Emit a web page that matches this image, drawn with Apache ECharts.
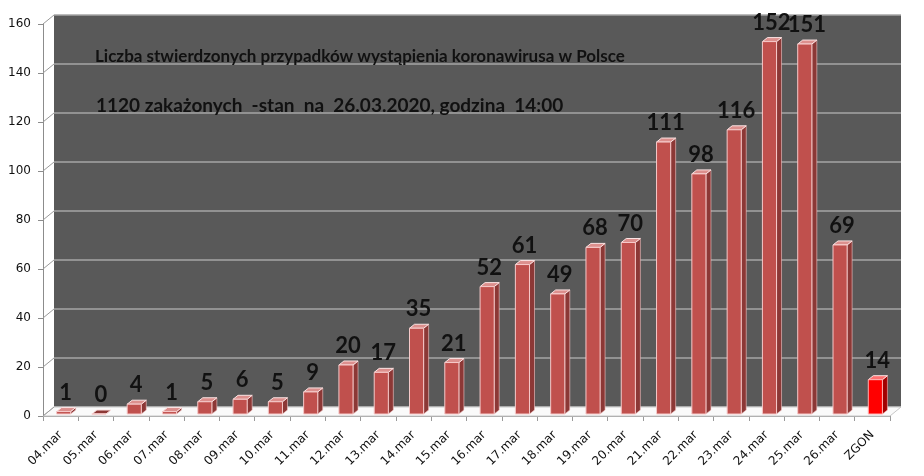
<!DOCTYPE html>
<html>
<head>
<meta charset="utf-8">
<script src="https://cdn.jsdelivr.net/npm/echarts@6/dist/echarts.min.js"></script>
<style>
  html, body { margin: 0; padding: 0; background: #fff; }
  #main { width: 924px; height: 476px; }
</style>
</head>
<body>
<div id="main"></div>
<script>
// dane
var categories = ['04.mar', '05.mar', '06.mar', '07.mar', '08.mar', '09.mar', '10.mar', '11.mar',
  '12.mar', '13.mar', '14.mar', '15.mar', '16.mar', '17.mar', '18.mar', '19.mar', '20.mar',
  '21.mar', '22.mar', '23.mar', '24.mar', '25.mar', '26.mar', 'ZGON'];
var cases = [1, 0, 4, 1, 5, 6, 5, 9, 20, 17, 35, 21, 52, 61, 49, 68, 70, 111, 98, 116, 152, 151, 69, 14];
var yTicks = [0, 20, 40, 60, 80, 100, 120, 140, 160];
var title1 = 'Liczba stwierdzonych przypadków wystąpienia koronawirusa w Polsce';
var title2 = '1120 zakażonych  -stan  na  26.03.2020, godzina  14:00';

(function () {
  var myChart = echarts.init(document.getElementById('main'));

  // uklad "3D" - przednia plaszczyzna i tylna sciana
  var L = 43, R = 34, T = 24, B = 60;
  var DX = 11, DY = -9;
  var W = 924, H = 476;

  // przesuniecie slupka w glab i glebokosc slupka
  var OX = 3, OY = -2, BD = 5, BDY = -4;

  function renderBar(params, api) {
    var i = api.value(0), v = api.value(1);
    var top = api.coord([i, v]);
    var base = api.coord([i, 0]);
    var w = api.size([1, 0])[0] * 0.4;
    var x0 = top[0] - w / 2 + OX, x1 = x0 + w;
    var yt = top[1] + OY, yb = base[1] + OY;
    var zgon = categories[i] === 'ZGON';
    var front = zgon ? '#ff0000' : '#c0504d';
    var side = zgon ? '#a30000' : '#8c3836';
    var topc = v === 0 ? '#8c3836' : (zgon ? '#ff7070' : '#dc8f8d');
    var edge = zgon ? '#ffb0b0' : '#f6caca';
    return {
      type: 'group',
      children: [
        { type: 'polygon', shape: { points: [[x1, yt], [x1 + BD, yt + BDY], [x1 + BD, yb + BDY], [x1, yb]] },
          style: { fill: side, stroke: edge, lineWidth: 0.6 } },
        { type: 'polygon', shape: { points: [[x0, yt], [x0 + BD, yt + BDY], [x1 + BD, yt + BDY], [x1, yt]] },
          style: { fill: topc, stroke: '#fbe4e4', lineWidth: 1 } },
        { type: 'rect', shape: { x: x0, y: yt, width: w, height: Math.max(yb - yt, 0) },
          style: { fill: front, stroke: edge, lineWidth: 1 } },
        { type: 'text', x: x0 + w / 2 + 2, y: yt + BDY - 4,
          style: { text: String(v), fill: '#111', font: 'bold 22px Lato', align: 'center', verticalAlign: 'bottom' } }
      ]
    };
  }

  var option = {
    animation: false,
    backgroundColor: '#fff',
    title: [
      { text: title1, left: 90, top: 43,
        textStyle: { fontFamily: 'Lato', fontWeight: 'bold', fontSize: 17, color: '#111' } },
      { text: title2, left: 91, top: 91,
        textStyle: { fontFamily: 'Lato', fontWeight: 'bold', fontSize: 19, color: '#111' } }
    ],
    grid: [
      { left: L, right: R, top: T, bottom: B },
      { left: L + DX, right: R - DX, top: T + DY, bottom: B - DY,
        show: true, backgroundColor: '#595959', borderWidth: 0 }
    ],
    xAxis: [
      {
        type: 'category', data: categories, gridIndex: 0,
        axisLine: { lineStyle: { color: '#9a9a9a' } },
        axisTick: { show: true, length: 5, lineStyle: { color: '#9a9a9a' } },
        axisLabel: { rotate: 45, margin: 17, color: '#111', fontSize: 12, fontFamily: 'DejaVu Sans', interval: 0 }
      },
      { type: 'category', data: categories, gridIndex: 1, show: false }
    ],
    yAxis: [
      {
        type: 'value', gridIndex: 0, min: 0, max: 160, interval: 20,
        axisLine: { show: true, lineStyle: { color: '#8c8c8c' } },
        axisTick: { show: true, length: 5, lineStyle: { color: '#8c8c8c' } },
        axisLabel: { color: '#111', fontSize: 12, fontFamily: 'DejaVu Sans', margin: 12 },
        splitLine: { show: false }
      },
      {
        type: 'value', gridIndex: 1, min: 0, max: 160, interval: 20,
        axisLine: { show: false }, axisTick: { show: false }, axisLabel: { show: false },
        splitLine: { show: true, lineStyle: { color: '#a6a6a6', width: 1.5 } }
      }
    ],
    graphic: [
      // podloga
      { type: 'polygon', z: 1, silent: true,
        shape: { points: [[L, H - B], [W - R, H - B], [W - R + DX, H - B + DY], [L + DX, H - B + DY]] },
        style: { fill: '#fafafa', stroke: '#c8c8c8', lineWidth: 1 } }
    ],
    series: [
      {
        type: 'custom', xAxisIndex: 0, yAxisIndex: 0, z: 5,
        renderItem: renderBar,
        encode: { x: 0, y: 1 },
        data: cases.map(function (v, i) { return [i, v]; })
      }
    ]
  };

  myChart.setOption(option);

  // ukosne linie na lewej scianie
  var lines = yTicks.map(function (t) {
    var y = myChart.convertToPixel({ yAxisIndex: 0 }, t);
    return { type: 'line', z: 1, silent: true,
      shape: { x1: L, y1: y, x2: L + DX, y2: y + DY },
      style: { stroke: '#9a9a9a', lineWidth: 1 } };
  });
  myChart.setOption({ graphic: option.graphic.concat(lines) });

  window.addEventListener('resize', function () {
    myChart.resize();
  });
})();
</script>
</body>
</html>
